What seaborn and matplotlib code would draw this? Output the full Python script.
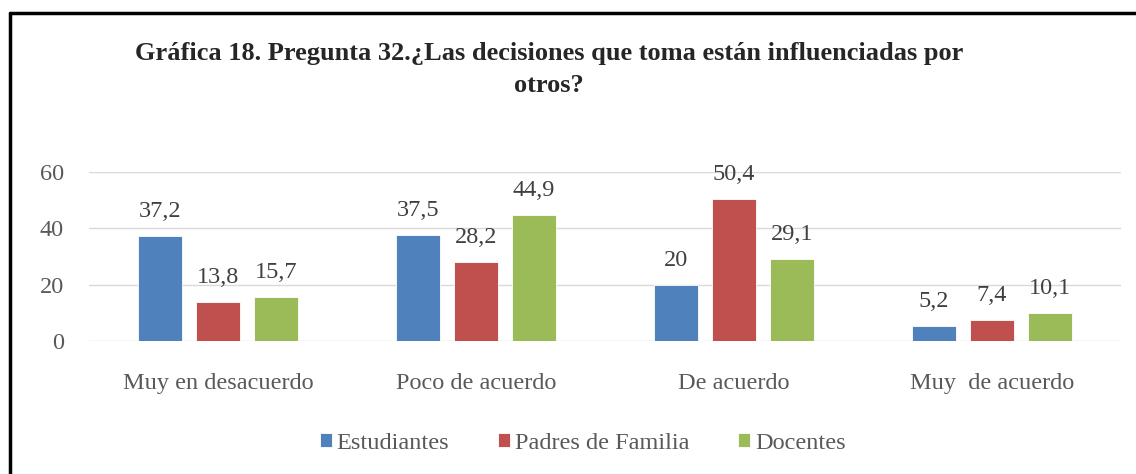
import pandas as pd
import seaborn as sns
import matplotlib.pyplot as plt
from matplotlib.lines import Line2D

categorias = ['Muy en desacuerdo', 'Poco de acuerdo', 'De acuerdo', 'Muy  de acuerdo']
grupos = ['Estudiantes', 'Padres de Familia', 'Docentes']
estudiantes = [37.2, 37.5, 20, 5.2]
padres = [13.8, 28.2, 50.4, 7.4]
docentes = [15.7, 44.9, 29.1, 10.1]
colores = ['#4F81BD', '#C0504D', '#9BBB59']

df = pd.DataFrame({
    'Categoria': categorias * 3,
    'Grupo': [grupos[0]] * 4 + [grupos[1]] * 4 + [grupos[2]] * 4,
    'Valor': estudiantes + padres + docentes,
})

sns.set_theme(style='white')
plt.rcParams['font.family'] = ['Liberation Serif', 'DejaVu Serif']
gris = '#595959'

fig = plt.figure(figsize=(11.36, 4.74), dpi=100)
ax = fig.add_axes([0.0783, 0.2806, 0.9085, 0.3565])

sns.barplot(data=df, x='Categoria', y='Valor', hue='Grupo', hue_order=grupos,
            palette=colores, width=0.675, gap=0.23, saturation=1,
            edgecolor='white', linewidth=0.6, ax=ax)

# etiquetas de datos con coma decimal
for cont in ax.containers:
    etiquetas = [f'{b.get_height():g}'.replace('.', ',') for b in cont]
    ax.bar_label(cont, labels=etiquetas, padding=10, fontsize=17.5, color='#404040')

ax.set_ylim(0, 60)
ax.set_yticks([0, 20, 40, 60])
ax.set_xlim(-0.5, 3.5)
ax.set_xlabel('')
ax.set_ylabel('')
ax.yaxis.grid(True, color='#D9D9D9', linewidth=1)
ax.set_axisbelow(True)
for s in ax.spines.values():
    s.set_visible(False)
ax.tick_params(axis='y', length=0, pad=18, labelsize=17.5, labelcolor=gris)
ax.tick_params(axis='x', length=0, pad=23, labelsize=17.5, labelcolor=gris)

handles, labels = ax.get_legend_handles_labels()
ax.legend(handles, labels, loc='center', bbox_to_anchor=(0.513, 0.065),
          bbox_transform=fig.transFigure, ncol=3, frameon=False,
          fontsize=17.5, handlelength=0.5, handleheight=0.5,
          handletextpad=0.2, columnspacing=2.0, labelcolor=gris)

fig.text(0.483, 0.853, 'Gráfica 18. Pregunta 32.¿Las decisiones que toma están influenciadas por\notros?',
         ha='center', va='center', fontsize=19, fontweight='bold', linespacing=1.5)

# marco del grafico
fig.add_artist(Line2D([0.009, 1.0], [0.973, 0.973], color='black', linewidth=2.5))
fig.add_artist(Line2D([0.009, 0.009], [0.0, 0.973], color='black', linewidth=2.5))

fig.savefig('out.png', dpi=100)
